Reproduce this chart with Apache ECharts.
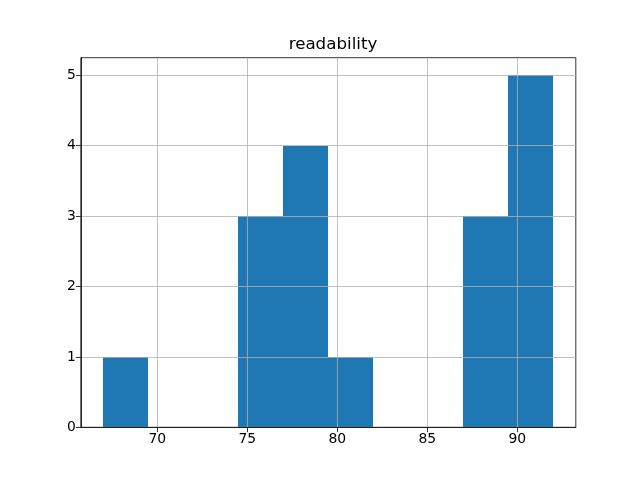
<!DOCTYPE html>
<html>
<head>
<meta charset="utf-8">
<script src="https://cdn.jsdelivr.net/npm/echarts@6/dist/echarts.min.js"></script>
<style>html,body{margin:0;padding:0;background:#fff}#c{width:640px;height:480px}</style>
</head>
<body>
<div id="c"></div>
<script>
const titleText = 'readability';
const binEdges = [67, 69.5, 72, 74.5, 77, 79.5, 82, 84.5, 87, 89.5, 92];
const counts = [1, 0, 0, 3, 4, 1, 0, 0, 3, 5];
const xTicks = [70, 75, 80, 85, 90];
const yTicks = [0, 1, 2, 3, 4, 5];

const data = counts.map((c, i) => [binEdges[i], binEdges[i + 1], c]);
const chart = echarts.init(document.getElementById('c'), null, {renderer: 'canvas'});
const font = 'DejaVu Sans';
chart.setOption({
  animation: false,
  title: {
    text: titleText, left: 328, top: 31, textAlign: 'center',
    textStyle: {fontFamily: font, fontSize: 16.7, fontWeight: 'normal', color: '#000'}
  },
  grid: {left: 80.8, right: 64.2, top: 57.7, bottom: 52.7, show: true, borderColor: '#000', borderWidth: 0.8, containLabel: false},
  xAxis: {
    type: 'value', min: 65.75, max: 93.25, z: 5,
    axisLine: {show: true, lineStyle: {color: '#000', width: 0.8}},
    axisTick: {show: true, length: 4.9, lineStyle: {color: '#000', width: 0.8}, customValues: xTicks},
    axisLabel: {fontFamily: font, fontSize: 13.9, color: '#000', margin: 5, customValues: xTicks},
    splitLine: {show: true, lineStyle: {color: '#b0b0b0', width: 0.8}}
  },
  yAxis: {
    type: 'value', min: 0, max: 5.25, interval: 1, z: 5,
    axisLine: {show: true, lineStyle: {color: '#000', width: 0.8}},
    axisTick: {show: true, length: 4.9, lineStyle: {color: '#000', width: 0.8}, customValues: yTicks},
    axisLabel: {fontFamily: font, fontSize: 13.9, color: '#000', margin: 5, customValues: yTicks},
    splitLine: {show: true, lineStyle: {color: '#b0b0b0', width: 0.8}}
  },
  series: [{
    type: 'custom', z: 1,
    data: data,
    encode: {x: [0, 1], y: 2},
    renderItem: function (params, api) {
      const p0 = api.coord([api.value(0), 0]);
      const p1 = api.coord([api.value(1), api.value(2)]);
      const x0 = Math.round(p0[0]), x1 = Math.round(p1[0]);
      const y0 = Math.round(p0[1]), y1 = Math.round(p1[1]);
      return {
        type: 'rect',
        shape: {x: x0, y: y1, width: x1 - x0, height: y0 - y1},
        style: {fill: '#1f77b4'}
      };
    }
  }]
});
</script>
</body>
</html>
